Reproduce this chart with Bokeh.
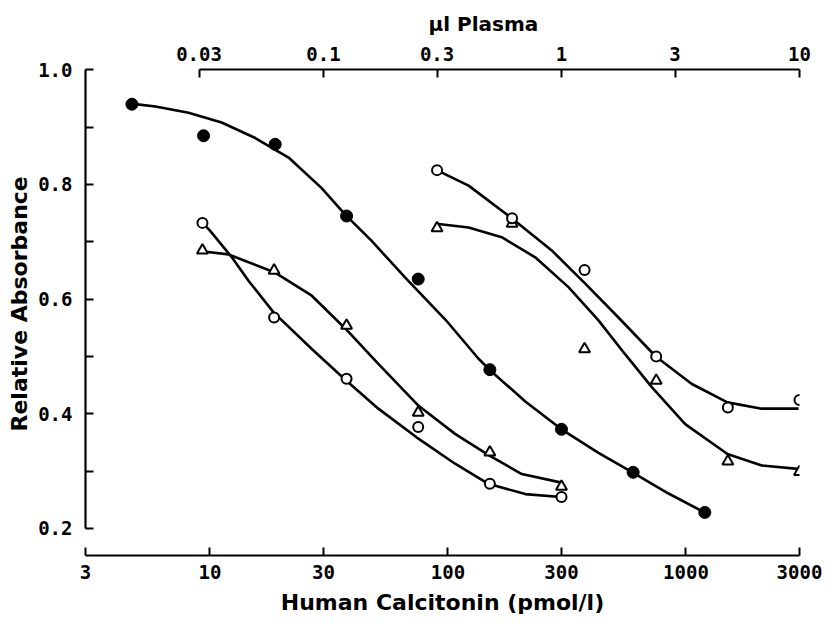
from bokeh.plotting import figure
from bokeh.models import LogAxis, Range1d, FixedTicker, CustomJSTickFormatter, LogScale, Title
from bokeh.embed import file_html
from bokeh.resources import INLINE

# ---- data ----
# Calcitonin standard (filled circles), bottom axis: pmol/l
std_conc = [4.7, 9.4, 18.8, 37.5, 75, 150, 300, 600, 1200]
std_abs = [0.940, 0.885, 0.870, 0.745, 0.635, 0.477, 0.373, 0.298, 0.228]
std_curve_x = [4.67, 5.9, 8.13, 11.2, 15.5, 21.4, 29.4, 37.1, 47.7, 66.3, 97.7,
               134.5, 149.5, 212, 300, 429, 596, 845, 1197]
std_curve_y = [0.941, 0.936, 0.925, 0.908, 0.881, 0.847, 0.794, 0.747, 0.702, 0.637,
               0.564, 0.496, 0.477, 0.421, 0.373, 0.332, 0.298, 0.261, 0.228]

# Plasma samples, top axis: µl plasma
plasma_a_vol = [0.031, 0.062, 0.125, 0.25, 0.5, 1.0]
plasma_a_circ = [0.733, 0.568, 0.461, 0.377, 0.278, 0.255]
plasma_a_tri = [0.685, 0.650, 0.554, 0.402, 0.333, 0.273]
plasma_b_vol = [0.3, 0.62, 1.25, 2.5, 5.0, 10.0]
plasma_b_circ = [0.825, 0.741, 0.651, 0.500, 0.411, 0.424]
plasma_b_tri = [0.724, 0.732, 0.513, 0.458, 0.317, 0.299]

a_circ_curve_x = [0.0311, 0.0334, 0.0412, 0.0484, 0.0617, 0.0893, 0.1245, 0.170,
                  0.246, 0.357, 0.493, 0.704, 0.993]
a_circ_curve_y = [0.733, 0.719, 0.673, 0.632, 0.577, 0.513, 0.458, 0.409,
                  0.359, 0.313, 0.278, 0.260, 0.255]
a_tri_curve_x = [0.0313, 0.0399, 0.0621, 0.0893, 0.124, 0.170, 0.251, 0.357,
                 0.498, 0.681, 1.0]
a_tri_curve_y = [0.683, 0.678, 0.647, 0.606, 0.548, 0.487, 0.414, 0.365,
                 0.327, 0.295, 0.280]
b_circ_curve_x = [0.299, 0.407, 0.618, 0.910, 1.258, 1.735, 2.49, 3.53, 4.98, 6.94, 9.91]
b_circ_curve_y = [0.825, 0.798, 0.741, 0.685, 0.627, 0.568, 0.500, 0.452, 0.420, 0.409, 0.409]
b_tri_curve_x = [0.304, 0.407, 0.561, 0.775, 1.07, 1.43, 1.85, 2.40, 3.31, 4.98, 6.94, 9.82]
b_tri_curve_y = [0.731, 0.725, 0.708, 0.673, 0.621, 0.563, 0.504, 0.446, 0.382,
                 0.330, 0.310, 0.304]

bottom_ticks = [3, 10, 30, 100, 300, 1000, 3000]
top_ticks = [0.03, 0.1, 0.3, 1, 3, 10]
y_ticks = [0.2, 0.4, 0.6, 0.8, 1.0]
y_minor = [0.3, 0.5, 0.7, 0.9]

TICK_FONT = "DejaVu Sans Mono"
TITLE_FONT = "DejaVu Sans"

p = figure(frame_width=714, frame_height=486,
           x_axis_type="log", x_range=(3, 3000), y_range=(0.1529, 1.0005),
           output_backend="svg", toolbar_location=None,
           title="µl Plasma", title_location="above",
           min_border_left=79, min_border_right=26, min_border_top=69, min_border_bottom=56)
p.title.align = "left"
p.title.offset = 343
p.title.standoff = 16
p.title.text_font = TITLE_FONT
p.title.text_font_size = "20px"
p.title.text_font_style = "bold"
p.title.text_color = "black"

p.extra_x_ranges = {"plasma": Range1d(0.01, 10)}
p.extra_x_scales = {"plasma": LogScale()}

p.xgrid.visible = False
p.ygrid.visible = False
p.outline_line_color = None
p.background_fill_color = "white"

# bottom axis
xa = p.xaxis[0]
xa.ticker = FixedTicker(ticks=bottom_ticks, minor_ticks=[])
xa.formatter = CustomJSTickFormatter(code="return tick.toString()")
xa.axis_label = "Human Calcitonin (pmol/l)"

# left axis
ya = p.yaxis[0]
ya.ticker = FixedTicker(ticks=y_ticks, minor_ticks=y_minor)
ya.formatter = CustomJSTickFormatter(code="return tick.toFixed(1)")
ya.bounds = (0.2, 1.0)

left_title = Title(text="Relative Absorbance", align="left", offset=124,
                   text_font=TITLE_FONT, text_font_size="22px",
                   text_font_style="bold", text_color="black", standoff=8)
p.add_layout(left_title, "left")

# top axis
ta = LogAxis(x_range_name="plasma",
             ticker=FixedTicker(ticks=top_ticks, minor_ticks=[]),
             formatter=CustomJSTickFormatter(code="return tick.toString()"),
             bounds=(0.03, 10))
p.add_layout(ta, "above")

for ax in (xa, ya, ta):
    ax.axis_line_width = 2.2
    ax.axis_line_color = "black"
    ax.major_tick_in = 8
    ax.major_tick_out = 0
    ax.minor_tick_in = 8
    ax.minor_tick_out = 0
    ax.major_tick_line_width = 2
    ax.minor_tick_line_width = 2
    ax.major_label_text_font = TICK_FONT
    ax.major_label_text_font_size = "19px"
    ax.major_label_text_font_style = "bold"
    ax.major_label_text_color = "black"
    ax.axis_label_text_font = TITLE_FONT
    ax.axis_label_text_font_size = "22px"
    ax.axis_label_text_font_style = "bold"
    ax.axis_label_text_color = "black"
    ax.major_label_standoff = 9

ya.major_label_standoff = 13
xa.axis_label_standoff = 8

LW = 2.6
p.line(std_curve_x, std_curve_y, line_color="black", line_width=LW)
p.line(a_circ_curve_x, a_circ_curve_y, line_color="black", line_width=LW, x_range_name="plasma")
p.line(a_tri_curve_x, a_tri_curve_y, line_color="black", line_width=LW, x_range_name="plasma")
p.line(b_circ_curve_x, b_circ_curve_y, line_color="black", line_width=LW, x_range_name="plasma")
p.line(b_tri_curve_x, b_tri_curve_y, line_color="black", line_width=LW, x_range_name="plasma")

p.scatter(std_conc, std_abs, marker="circle", size=12, fill_color="black", line_color="black")
for vols, vals in ((plasma_a_vol, plasma_a_tri), (plasma_b_vol, plasma_b_tri)):
    p.scatter(vols, vals, marker="triangle", size=11, fill_color="white",
              line_color="black", line_width=2, x_range_name="plasma")
for vols, vals in ((plasma_a_vol, plasma_a_circ), (plasma_b_vol, plasma_b_circ)):
    p.scatter(vols, vals, marker="circle", size=10, fill_color="white",
              line_color="black", line_width=2, x_range_name="plasma")

open("out.html", "w").write(file_html(p, INLINE))
